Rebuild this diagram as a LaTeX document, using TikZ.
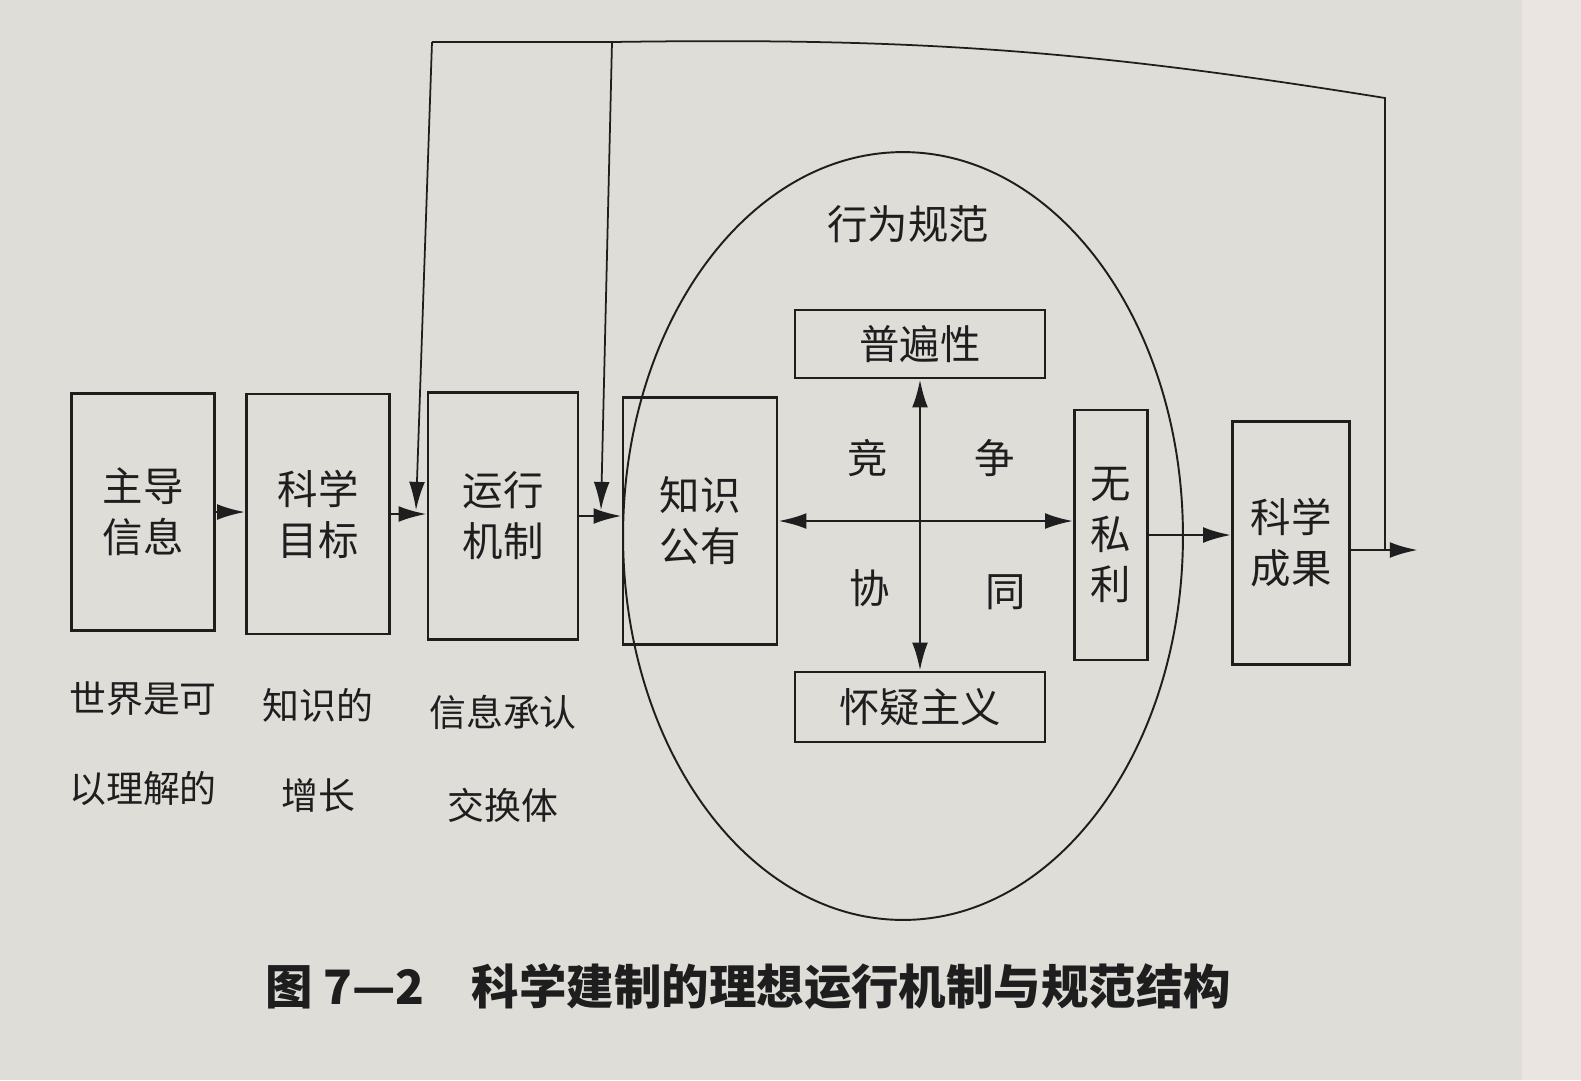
\documentclass[tikz,border=0pt]{standalone}
\usepackage{fontspec}
\newfontfamily\cjk{Noto Sans CJK SC}
\usepackage{xcolor}
\usepackage{tikz}
\usetikzlibrary{positioning}
\usetikzlibrary{arrows.meta}
\usetikzlibrary{shapes.geometric}

\definecolor{paper}{RGB}{222,221,216}
\definecolor{pageedge}{RGB}{234,229,225}
\definecolor{ink}{RGB}{30,30,30}

\tikzset{
  box/.style={draw=ink, line width=1.4pt, inner sep=0pt, align=center, text=ink,
              font=\cjk\fontsize{23}{29}\selectfont},
  word/.style={text=ink, inner sep=0pt, font=\cjk\fontsize{23}{29}\selectfont},
  note/.style={text=ink, inner sep=0pt, align=center, font=\cjk\fontsize{21}{51}\selectfont},
  feed/.style={draw=ink, line width=1pt},
}

\begin{document}
\begin{tikzpicture}[x=0.02cm, y=-0.02cm, >={Latex[length=16pt,width=9pt]}, color=ink, line width=1.6pt]
% paper
\fill[paper] (0,0) rectangle (1581,1080);
\fill[pageedge] (1522,0) rectangle (1581,1080);

% norm circle
\node[draw, ellipse, line width=1.1pt, inner sep=0pt, minimum width=11.2cm, minimum height=15.36cm] (guifan) at (903,536) {};
\node[word] (guifan title) [below=1.05cm of guifan.north, xshift=0.1cm] {行为规范};

% main chain
\node[box, minimum width=2.86cm, minimum height=4.74cm] (zhudao)   at (143,512)  {主导\\信息};
\node[box, minimum width=2.86cm, minimum height=4.80cm] (mubiao)   at (318,514)  {科学\\目标};
\node[box, minimum width=3.00cm, minimum height=4.94cm] (jizhi)    at (503,516)  {运行\\机制};
\node[box, minimum width=3.08cm, minimum height=4.94cm] (gongyou)  at (700,521)  {知识\\公有};
\node[box, minimum width=5.00cm, minimum height=1.36cm] (pubian)   at (920,344)  {普遍性};
\node[box, minimum width=5.00cm, minimum height=1.40cm] (huaiyi)   at (920,707)  {怀疑主义};
\node[box, minimum width=1.46cm, minimum height=5.00cm] (wusili)   at (1111,535) {无\\私\\利};
\node[box, minimum width=2.34cm, minimum height=4.86cm] (chengguo) at (1291,543) {科学\\成果};

\node[word] (jing) at (868,458)  {竞};
\node[word] (zheng) at (995,458) {争};
\node[word] (xie) at (870,588)   {协};
\node[word] (tong) at (1006,592) {同};

% notes under the boxes
\node[note] (zhudao note) [below=0.97cm of zhudao] {世界是可\\以理解的};
\node[note] (mubiao note) [below=1.04cm of mubiao] {知识的\\增长};
\node[note, font=\cjk\fontsize{21}{53}\selectfont] (jizhi note) [below=1.06cm of jizhi] {信息承认\\交换体};

% arrows
\draw[->] (zhudao.east)  -- (zhudao.east -| mubiao.west);
\draw[->] (mubiao.east)  -- (mubiao.east -| jizhi.west);
\draw[->] (jizhi.east)   -- (jizhi.east -| gongyou.west);
\draw[<->] (gongyou.east) -- (gongyou.east -| wusili.west);
\draw[<->] (pubian.south) -- (huaiyi.north);
\draw[->] (wusili.east)  -- (wusili.east -| chengguo.west);
\coordinate (out) at (1418,550);
\draw[->] (chengguo.east |- out) -- (out);

% feedback
\coordinate (fb)  at (1385,550);
\coordinate (tr)  at (1385,98);
\coordinate (tm)  at (612,42);
\coordinate (tl)  at (432,42);
\coordinate (in1) at (416,510);
\coordinate (in2) at (601,510);
\draw[feed] (fb) -- (tr) to[bend right=5] (tm) -- (tl);
\draw[feed,->] (tl) -- (in1);
\draw[feed,->] (tm) -- (in2);

% caption
\node[text=ink, inner sep=0pt, font=\cjk\bfseries\fontsize{27}{32}\selectfont] (caption) at (748,987)
  {图 7—2\hspace{1em}科学建制的理想运行机制与规范结构};
\end{tikzpicture}
\end{document}
